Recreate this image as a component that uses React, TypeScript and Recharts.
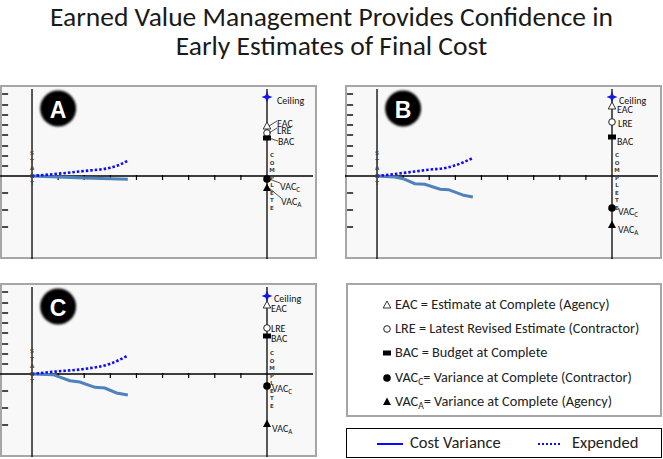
import React from "react";
import {
  ComposedChart,
  Line,
  Scatter,
  XAxis,
  YAxis,
  ReferenceLine,
  ReferenceDot,
} from "recharts";

// title
const titleLines = [
  "Earned Value Management Provides Confidence in",
  "Early Estimates of Final Cost",
];

// time axis: 0 = start, 9 = complete
const axisTicks = [1, 2, 3, 4, 5, 6, 7, 8];
const edgeTicks = [82, 71, 61, 51, 41, 30, 20, 10, -17, -34, -51];
const startLetters = ["S", "T", "A", "R", "T"];
const completeLetters = ["C", "O", "M", "P", "L", "E", "T", "E"];

const markerKinds = ["ceiling", "eac", "lre", "bac", "vacC", "vacA"];
const markerNames = ["Ceiling", "EAC", "LRE", "BAC", "VAC", "VAC"];
const markerSubs = ["", "", "", "", "C", "A"];

// panel A
const expTimeA = [0, 1, 2, 3, 3.3, 3.65];
const expA = [0, 2.3, 5, 8.3, 10.7, 15];
const cvTimeA = [0, 1, 2, 3, 3.67];
const cvA = [0, -1, -2, -2.7, -3.3];
const markersA = [79, 50, 43, 38, -3, -12];

// panel B
const expTimeB = [0, 1, 2, 2.67, 3, 3.7];
const expB = [0, 3, 6.3, 8.3, 10.7, 18.3];
const cvTimeB = [0, 0.68, 1, 1.45, 1.83, 2.42, 2.74, 3.32, 3.67];
const cvB = [0, -1, -2.7, -7.7, -8.3, -13.3, -13.7, -19.3, -21];
const markersB = [79, 70, 54, 39, -32, -49];

// panel C
const expTimeC = [0, 1, 2, 3, 3.69];
const expC = [0, 2.7, 5, 10.3, 18.7];
const cvTimeC = [0, 0.81, 1.45, 1.83, 2.41, 2.79, 3.24, 3.67];
const cvC = [0, -0.7, -6.7, -8, -13.3, -14, -19, -21];
const markersC = [78, 69, 46, 38, -12, -50];

// legend
const legendItems = [
  { kind: "eac", name: "EAC", sub: "", text: " = Estimate at Complete (Agency)" },
  { kind: "lre", name: "LRE", sub: "", text: " = Latest Revised Estimate (Contractor)" },
  { kind: "bac", name: "BAC", sub: "", text: " = Budget at Complete" },
  { kind: "vacC", name: "VAC", sub: "C", text: "= Variance at Complete (Contractor)" },
  { kind: "vacA", name: "VAC", sub: "A", text: "= Variance at Complete (Agency)" },
];

// layout
const PW = 317;
const PH = 174;
const X_MIN = -1.226;
const X_MAX = 10.762;
const Y_MIN = -83;
const Y_MAX = 87;
const COMPLETE_T = 9;
const FONT = "Calibri, Carlito, Lato, 'Open Sans', sans-serif";

// label offsets [dx, dy, leader]
const offsetsA = [[10, 3, 0], [10, -3, 1], [10, -3, 1], [11, 3, 1], [13, 7, 1], [14, 13, 1]];
const offsetsB = [[7, 3, 0], [5, 3, 0], [6, 1, 0], [5, 4, 0], [6, 3, 0], [6, 4, 0]];
const offsetsC = [[7, 2, 0], [4, 3, 0], [4, 0, 0], [4, 2, 0], [5, 2, 0], [5, 4, 0]];

function Symbol({ kind, cx, cy }: { kind: string; cx: number; cy: number }) {
  if (kind === "ceiling") {
    const R = 5.5;
    const r = 1.6;
    const d = `M${cx},${cy - R} L${cx + r},${cy - r} L${cx + R},${cy} L${cx + r},${cy + r} L${cx},${cy + R} L${cx - r},${cy + r} L${cx - R},${cy} L${cx - r},${cy - r} Z`;
    return <path d={d} fill="#1414e6" />;
  }
  if (kind === "eac") {
    return (
      <path
        d={`M${cx},${cy - 4} L${cx + 3.8},${cy + 3} L${cx - 3.8},${cy + 3} Z`}
        fill="#fff"
        stroke="#333"
        strokeWidth={1}
      />
    );
  }
  if (kind === "lre") {
    return <circle cx={cx} cy={cy} r={3.3} fill="#fff" stroke="#222" strokeWidth={1} />;
  }
  if (kind === "bac") {
    return <rect x={cx - 4} y={cy - 2.5} width={8} height={5} fill="#000" />;
  }
  if (kind === "vacC") {
    return <circle cx={cx} cy={cy} r={3.8} fill="#000" />;
  }
  return <path d={`M${cx},${cy - 4.5} L${cx + 4},${cy + 3} L${cx - 4},${cy + 3} Z`} fill="#000" />;
}

function MarkerLabel(props: any) {
  const { cx, cy, payload, offsets } = props;
  if (cx == null || cy == null) return null;
  const i = payload.idx;
  const [dx, dy, leader] = offsets[i];
  const tx = cx + dx;
  const ty = cy + dy;
  return (
    <g>
      <Symbol kind={payload.kind} cx={cx} cy={cy} />
      {leader ? (
        <line x1={cx + 2} y1={cy} x2={tx} y2={ty + (dy < 0 ? -2 : dy > 5 ? -3 : 0)} stroke="#222" strokeWidth={0.8} />
      ) : null}
      <text x={tx} y={ty} dominantBaseline="central" fontSize={10} fontFamily={FONT} fill="#111">
        {payload.name}
        {payload.sub ? (
          <tspan fontSize={7} dy={3}>
            {payload.sub}
          </tspan>
        ) : null}
      </text>
    </g>
  );
}

function VerticalWord(props: any) {
  const { cx, cy, letters, dx, startDy } = props;
  if (cx == null || cy == null) return null;
  return (
    <g>
      {letters.map((l: string, i: number) => (
        <text
          key={i}
          x={cx + dx}
          y={cy + startDy + i * 7.5}
          textAnchor="middle"
          dominantBaseline="central"
          fontSize={5.5}
          fontWeight="bold"
          fontFamily="'DejaVu Sans', sans-serif"
          fill="#444"
        >
          {l}
        </text>
      ))}
    </g>
  );
}

function Badge(props: any) {
  const { cx, cy, letter } = props;
  if (cx == null || cy == null) return null;
  return (
    <g>
      <circle cx={cx} cy={cy} r={18} fill="#000" style={{ filter: "blur(0.8px)" }} />
      <text
        x={cx}
        y={cy + 1}
        textAnchor="middle"
        dominantBaseline="central"
        fontSize={23}
        fontWeight="bold"
        fontFamily="'Liberation Sans', Arial, sans-serif"
        fill="#fff"
      >
        {letter}
      </text>
    </g>
  );
}

function Panel(props: {
  left: number;
  top: number;
  letter: string;
  expTime: number[];
  exp: number[];
  cvTime: number[];
  cv: number[];
  markers: number[];
  offsets: number[][];
}) {
  const { left, top, letter, expTime, exp, cvTime, cv, markers, offsets } = props;
  const expData = expTime.map((t, i) => ({ t, v: exp[i] }));
  const cvData = cvTime.map((t, i) => ({ t, v: cv[i] }));
  const markerData = markers.map((v, i) => ({
    t: COMPLETE_T,
    v,
    idx: i,
    kind: markerKinds[i],
    name: markerNames[i],
    sub: markerSubs[i],
  }));

  return (
    <div style={{ position: "absolute", left, top, width: PW, height: PH }}>
      <div
        style={{
          position: "absolute",
          inset: 0,
          border: "2px solid #a6a6a6",
          background: "#f8f8f8",
          boxSizing: "border-box",
        }}
      />
      <ComposedChart
        width={PW}
        height={PH}
        margin={{ top: 4, right: 4, bottom: 0, left: 0 }}
        style={{ position: "absolute", left: 0, top: 0 }}
      >
        <XAxis type="number" dataKey="t" domain={[X_MIN, X_MAX]} hide allowDataOverflow />
        <YAxis type="number" dataKey="v" domain={[Y_MIN, Y_MAX]} hide allowDataOverflow width={0} />
        <ReferenceDot
          x={0}
          y={0}
          r={0}
          shape={(p: any) => <VerticalWord {...p} letters={startLetters} dx={0} startDy={-23} />}
        />
        <ReferenceDot
          x={COMPLETE_T}
          y={0}
          r={0}
          shape={(p: any) => <VerticalWord {...p} letters={completeLetters} dx={5} startDy={-21} />}
        />
        <ReferenceLine y={0} stroke="#000" strokeWidth={1.3} />
        <ReferenceLine x={0} stroke="#000" strokeWidth={1.3} />
        <ReferenceLine x={COMPLETE_T} stroke="#000" strokeWidth={1.3} />
        {axisTicks.map((t) => (
          <ReferenceLine
            key={"x" + t}
            segment={[
              { x: t, y: 1 },
              { x: t, y: -4 },
            ]}
            stroke="#000"
            strokeWidth={1.2}
          />
        ))}
        {edgeTicks.map((v) => (
          <ReferenceLine
            key={"y" + v}
            segment={[
              { x: X_MIN + 0.08, y: v },
              { x: X_MIN + 0.31, y: v },
            ]}
            stroke="#000"
            strokeWidth={1.4}
          />
        ))}
        <ReferenceDot
          x={1}
          y={67.5}
          r={0}
          shape={(p: any) => <Badge {...p} letter={letter} />}
        />
        <Line
          data={cvData}
          dataKey="v"
          type="linear"
          stroke="#4f81bd"
          strokeWidth={3}
          dot={false}
          isAnimationActive={false}
        />
        <Line
          data={expData}
          dataKey="v"
          type="monotone"
          stroke="#0a0aff"
          strokeWidth={2.6}
          strokeDasharray="2.5 2"
          dot={false}
          isAnimationActive={false}
        />
        <Scatter
          data={markerData}
          isAnimationActive={false}
          shape={(p: any) => <MarkerLabel {...p} offsets={offsets} />}
        />
      </ComposedChart>
    </div>
  );
}

function LegendSymbol({ kind }: { kind: string }) {
  return (
    <svg width={14} height={14} style={{ position: "absolute", left: -7, top: -7, overflow: "visible" }}>
      <Symbol kind={kind} cx={7} cy={7} />
    </svg>
  );
}

export default function App() {
  return (
    <div
      style={{
        position: "absolute",
        left: 0,
        top: 0,
        width: 663,
        height: 459,
        background: "#fff",
        fontFamily: FONT,
        color: "#1a1a1a",
      }}
    >
      {titleLines.map((line, i) => (
        <div
          key={i}
          style={{
            position: "absolute",
            left: 0,
            width: 663,
            top: 2 + i * 29,
            textAlign: "center",
            fontSize: 27.5,
            lineHeight: "30px",
          }}
        >
          {line}
        </div>
      ))}

      <Panel left={0} top={85} letter="A" expTime={expTimeA} exp={expA} cvTime={cvTimeA} cv={cvA} markers={markersA} offsets={offsetsA} />
      <Panel left={345} top={85} letter="B" expTime={expTimeB} exp={expB} cvTime={cvTimeB} cv={cvB} markers={markersB} offsets={offsetsB} />
      <Panel left={0} top={283} letter="C" expTime={expTimeC} exp={expC} cvTime={cvTimeC} cv={cvC} markers={markersC} offsets={offsetsC} />

      {/* symbol legend */}
      <div
        style={{
          position: "absolute",
          left: 346,
          top: 283,
          width: 316,
          height: 134,
          border: "2px solid #a6a6a6",
          boxSizing: "border-box",
          background: "#fff",
        }}
      >
        {legendItems.map((it, i) => (
          <div key={i} style={{ position: "absolute", left: 0, top: 20 + i * 24.2, width: 310 }}>
            <div style={{ position: "absolute", left: 39, top: 0 }}>
              <LegendSymbol kind={it.kind} />
            </div>
            <div
              style={{
                position: "absolute",
                left: 47,
                top: -10,
                fontSize: 14.3,
                lineHeight: "19px",
                whiteSpace: "nowrap",
                color: "#222",
              }}
            >
              {it.name}
              {it.sub ? <sub style={{ fontSize: 9.5, verticalAlign: "-3px" }}>{it.sub}</sub> : null}
              {it.text}
            </div>
          </div>
        ))}
      </div>

      {/* line legend */}
      <div
        style={{
          position: "absolute",
          left: 346,
          top: 428,
          width: 316,
          height: 30,
          border: "1.5px solid #000",
          boxSizing: "border-box",
          background: "#fff",
        }}
      >
        <svg width={316} height={30} style={{ position: "absolute", left: -1.5, top: -1.5 }}>
          <line x1={31} y1={16} x2={57} y2={16} stroke="#0a0aff" strokeWidth={2} />
          <line x1={192} y1={16} x2={216} y2={16} stroke="#0a0aff" strokeWidth={2} strokeDasharray="2 2" />
        </svg>
        <div style={{ position: "absolute", left: 63, top: 3, fontSize: 16.5, lineHeight: "21px", color: "#222" }}>
          Cost Variance
        </div>
        <div style={{ position: "absolute", left: 225, top: 3, fontSize: 16.5, lineHeight: "21px", color: "#222" }}>
          Expended
        </div>
      </div>
    </div>
  );
}
